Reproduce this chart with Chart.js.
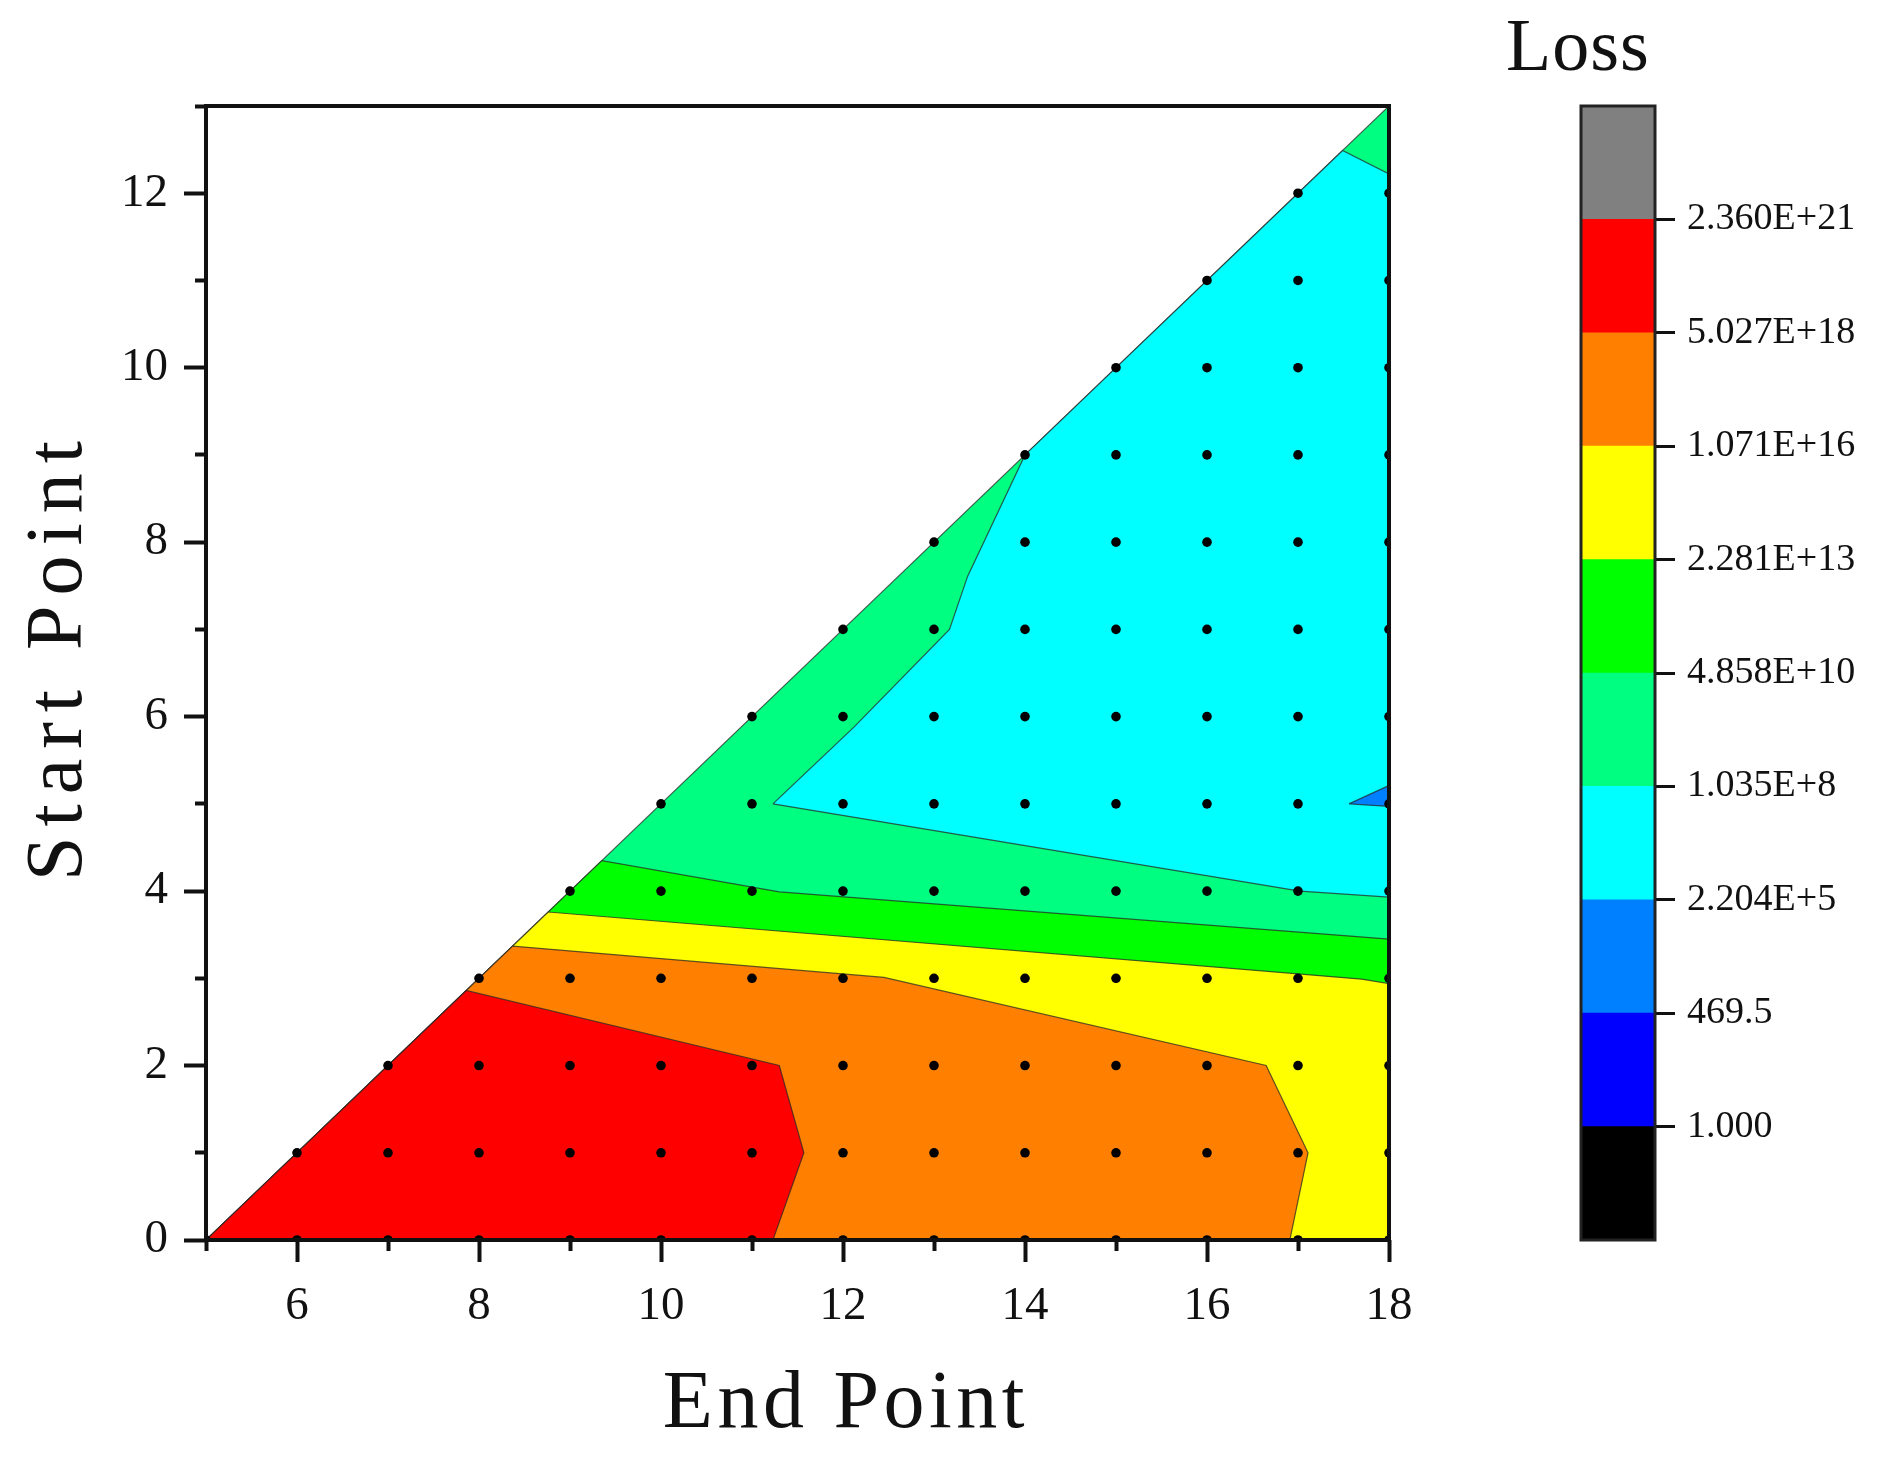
<!DOCTYPE html>
<html>
<head>
<meta charset="utf-8">
<script src="https://cdn.jsdelivr.net/npm/chart.js@4.4.1/dist/chart.umd.min.js"></script>
<style>
  html, body { margin: 0; padding: 0; background: #fff; }
  #wrap { position: relative; width: 1892px; height: 1459px; }
  #contour { position: absolute; left: 0; top: 0; }
  #colorbar { position: absolute; left: 1460px; top: 0; }
</style>
</head>
<body>
<div id="wrap">
  <canvas id="contour" width="1460" height="1459"></canvas>
  <canvas id="colorbar" width="432" height="1459"></canvas>
</div>
<script>
// grid of sampled (end, start) pairs
const endPoints = [5, 6, 7, 8, 9, 10, 11, 12, 13, 14, 15, 16, 17, 18];
const startPoints = [0, 1, 2, 3, 4, 5, 6, 7, 8, 9, 10, 11, 12];

// contour regions (x = end point, y = start point)
const triangleX = [5, 18, 18];
const triangleY = [0, 13, 0];
const cyanX = [11.23, 12.12, 13.17, 13.37, 14.0, 17.49, 18.0, 18.0, 17.02];
const cyanY = [5.0, 5.88, 7.0, 7.61, 9.0, 12.49, 12.22, 3.93, 4.0];
const greenX = [5, 9.35, 11.30, 18, 18];
const greenY = [0, 4.35, 3.99, 3.45, 0];
const yellowX = [5, 8.76, 17.7, 18, 18];
const yellowY = [0, 3.76, 2.99, 2.94, 0];
const orangeX = [5, 8.37, 12.45, 16.65, 17.11, 16.91];
const orangeY = [0, 3.37, 3.01, 2.0, 1.0, 0];
const redX = [5, 7.86, 11.30, 11.57, 11.23];
const redY = [0, 2.86, 2.0, 1.0, 0];
const blueX = [17.56, 18, 18];
const blueY = [5.0, 5.21, 4.97];

// colour bar levels, bottom to top
const lossLevels = ['1.000', '469.5', '2.204E+5', '1.035E+8', '4.858E+10',
                    '2.281E+13', '1.071E+16', '5.027E+18', '2.360E+21'];
const bandColors = ['#000000', '#0000ff', '#0080ff', '#00ffff', '#00ff80',
                    '#00ff00', '#ffff00', '#ff8000', '#ff0000', '#808080'];

const FONT = "'Liberation Serif', 'Times New Roman', serif";
Chart.defaults.font.family = FONT;
Chart.defaults.color = '#111';

function spacedText(ctx, text, x, y, size, spacing, angle) {
  ctx.save();
  ctx.font = size + 'px ' + FONT;
  ctx.fillStyle = '#111';
  ctx.letterSpacing = spacing + 'px';
  ctx.textAlign = 'center';
  ctx.textBaseline = 'alphabetic';
  ctx.translate(x, y);
  ctx.rotate(angle);
  ctx.fillText(text, 0, 0);
  ctx.restore();
}

function toPoints(xs, ys) {
  const pts = xs.map((x, i) => ({x: x, y: ys[i]}));
  pts.push(pts[0]);
  return pts;
}

const regions = [
  {x: triangleX, y: triangleY, color: '#00ff80'},
  {x: cyanX, y: cyanY, color: '#00ffff'},
  {x: greenX, y: greenY, color: '#00ff00'},
  {x: yellowX, y: yellowY, color: '#ffff00'},
  {x: orangeX, y: orangeY, color: '#ff8000'},
  {x: redX, y: redY, color: '#ff0000'},
  {x: blueX, y: blueY, color: '#0080ff'}
];

const samples = [];
endPoints.forEach(e => {
  startPoints.forEach(s => {
    if (s <= e - 5) samples.push({x: e, y: s});
  });
});

const datasets = regions.map((r, i) => ({
  data: toPoints(r.x, r.y),
  showLine: true,
  fill: 'shape',
  backgroundColor: r.color,
  borderColor: 'rgba(40,40,40,0.75)',
  borderWidth: 1.2,
  pointRadius: 0,
  order: 20 - i
}));
datasets.push({
  data: samples,
  pointRadius: 4.8,
  pointBackgroundColor: '#000',
  pointBorderWidth: 0,
  order: 0
});

const framePlugin = {
  id: 'frame',
  afterDatasetsDraw(chart) {
    const {ctx, chartArea: a} = chart;
    ctx.save();
    ctx.lineWidth = 4;
    ctx.strokeStyle = '#111';
    ctx.strokeRect(a.left, a.top, a.right - a.left, a.bottom - a.top);
    ctx.restore();
  },
  afterDraw(chart) {
    spacedText(chart.ctx, 'End Point', 846, 1427, 82, 4.5, 0);
    spacedText(chart.ctx, 'Start Point', 81, 656, 80, 10, -Math.PI / 2);
  }
};

const isMajor = v => v % 2 === 0;

new Chart(document.getElementById('contour'), {
  type: 'scatter',
  data: { datasets: datasets },
  options: {
    responsive: false,
    animation: false,
    events: [],
    layout: { padding: { left: 0, top: 106, right: 71, bottom: 0 } },
    plugins: { legend: { display: false }, tooltip: { enabled: false } },
    scales: {
      x: {
        type: 'linear', min: 5, max: 18,
        afterFit: s => { s.height = 219; },
        border: { display: false },
        grid: {
          drawOnChartArea: false, tickLength: 22, tickWidth: 4, tickColor: '#111',
          tickBorderDash: c => isMajor(c.tick.value) ? [] : [11, 100]
        },
        ticks: {
          stepSize: 1, autoSkip: false, maxRotation: 0, padding: 16,
          font: { size: 47 },
          callback: v => isMajor(v) ? v : ''
        }
      },
      y: {
        type: 'linear', min: 0, max: 13,
        afterFit: s => { s.width = 206; },
        border: { display: false },
        grid: {
          drawOnChartArea: false, tickLength: 22, tickWidth: 4, tickColor: '#111',
          tickBorderDash: c => isMajor(c.tick.value) ? [] : [0, 11, 11, 100]
        },
        ticks: {
          stepSize: 1, autoSkip: false, padding: 16,
          font: { size: 47 },
          callback: v => isMajor(v) ? v : ''
        }
      }
    }
  },
  plugins: [framePlugin]
});

const barFramePlugin = {
  id: 'barFrame',
  afterDatasetsDraw(chart) {
    const {ctx, chartArea: a} = chart;
    ctx.save();
    ctx.lineWidth = 3;
    ctx.strokeStyle = '#222';
    ctx.strokeRect(a.left, a.top, a.right - a.left, a.bottom - a.top);
    ctx.restore();
  },
  afterDraw(chart) {
    spacedText(chart.ctx, 'Loss', 118, 70, 74, 1, 0);
  }
};

new Chart(document.getElementById('colorbar'), {
  type: 'bar',
  data: {
    labels: ['Loss'],
    datasets: bandColors.map(c => ({
      data: [1], backgroundColor: c, borderWidth: 0,
      barPercentage: 1, categoryPercentage: 1
    }))
  },
  options: {
    responsive: false,
    animation: false,
    events: [],
    layout: { padding: { left: 121, top: 106, right: 0, bottom: 219 } },
    plugins: { legend: { display: false }, tooltip: { enabled: false } },
    scales: {
      x: { stacked: true, display: false },
      y: {
        stacked: true, position: 'right', min: 0, max: 10,
        afterFit: s => { s.width = 237; },
        border: { display: false },
        grid: {
          drawOnChartArea: false, tickLength: 20, tickWidth: 3,
          tickColor: c => (c.tick.value >= 1 && c.tick.value <= 9) ? '#111' : 'rgba(0,0,0,0)'
        },
        ticks: {
          stepSize: 1, autoSkip: false, padding: 12,
          font: { size: 38 },
          callback: v => lossLevels[v - 1] || ''
        }
      }
    }
  },
  plugins: [barFramePlugin]
});
</script>
</body>
</html>
